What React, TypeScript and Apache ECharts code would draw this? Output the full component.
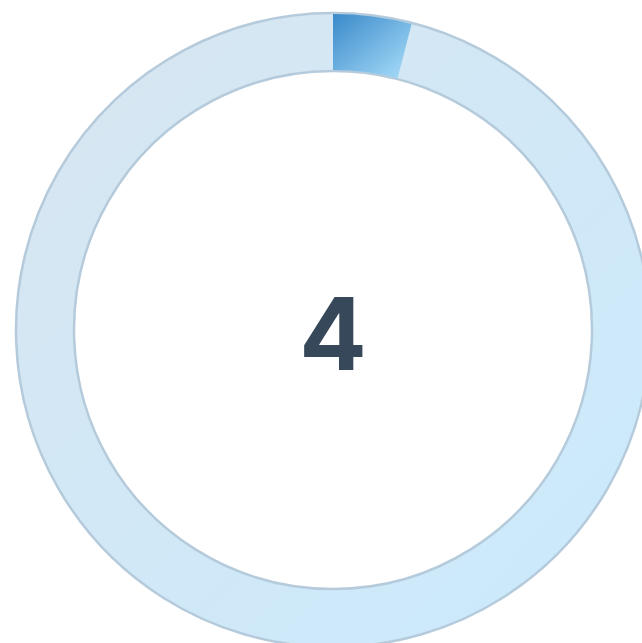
import React, { useEffect, useRef } from "react";
import * as echarts from "echarts";

const progressValue = 4;
const totalValue = 100;
const centerLabel = ["4"];

export default function App() {
  const ref = useRef<HTMLDivElement>(null);
  useEffect(() => {
    if (!ref.current) return;
    const chart = echarts.init(ref.current, null, { renderer: "svg" });
    chart.setOption({
      animation: false,
      series: [
        {
          type: "pie",
          center: [333, 330],
          radius: [259, 317],
          startAngle: 90,
          silent: true,
          label: { show: false },
          labelLine: { show: false },
          z: 1,
          data: [
            {
              value: totalValue,
              itemStyle: {
                color: {
                  type: "linear", x: 0, y: 0, x2: 1, y2: 1,
                  colorStops: [
                    { offset: 0, color: "#d8e6f0" },
                    { offset: 1, color: "#caeafd" },
                  ],
                },
                borderColor: "#b5cbdb",
                borderWidth: 2.5,
              },
            },
          ],
        },
        {
          type: "pie",
          center: [333, 330],
          radius: [260, 316],
          startAngle: 90,
          clockwise: true,
          silent: true,
          label: { show: false },
          labelLine: { show: false },
          z: 2,
          data: [
            {
              value: progressValue,
              itemStyle: {
                color: {
                  type: "linear", x: 0, y: 0, x2: 1, y2: 1,
                  colorStops: [
                    { offset: 0, color: "#3a8aca" },
                    { offset: 1, color: "#aadefa" },
                  ],
                },
              },
            },
            {
              value: totalValue - progressValue,
              itemStyle: { color: "rgba(0,0,0,0)" },
            },
          ],
        },
      ],
      graphic: [
        {
          type: "text",
          x: 333,
          y: 333,
          style: {
            text: centerLabel[0],
            fill: "#36485a",
            fontFamily: "Inter",
            fontWeight: "bold",
            fontSize: 100,
            align: "center",
            verticalAlign: "middle",
          },
        },
      ],
    });
    return () => chart.dispose();
  }, []);
  return (
    <div
      ref={ref}
      style={{ position: "absolute", left: 0, top: 0, width: 642, height: 643 }}
    />
  );
}
